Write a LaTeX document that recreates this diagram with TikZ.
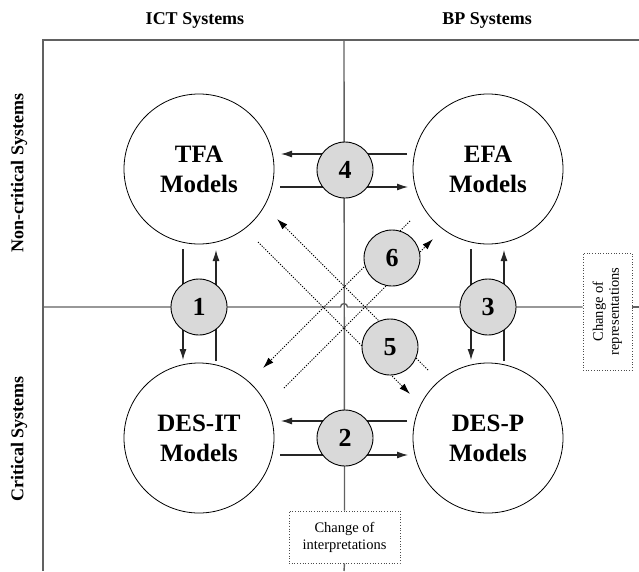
\documentclass[tikz,border=0pt]{standalone}
\usepackage{fontspec}
\usepackage{graphicx}
\setmainfont{Liberation Serif}
\usetikzlibrary{arrows.meta}

\begin{document}
\begin{tikzpicture}[x=1pt,y=-1pt,
  axis/.style={draw=black!62, line width=1.4pt},
  model/.style={circle, draw=black, line width=0.8pt, fill=white,
    minimum size=150pt, inner sep=0pt, align=center,
    font=\fontsize{25}{30}\selectfont\bfseries},
  badge/.style={circle, draw=black, line width=0.9pt, fill=black!15,
    minimum size=56pt, inner sep=0pt, font=\fontsize{26}{28}\selectfont\bfseries},
  flow/.style={draw=black!85, line width=1.1pt, -{Latex[length=11pt,width=7pt]}},
  trace/.style={draw=black, line width=1pt, dash pattern=on 1.2pt off 1.4pt},
  tip/.style={-{Latex[length=11pt,width=7pt]}},
  heading/.style={font=\fontsize{18}{20}\selectfont\bfseries},
  note/.style={draw=black!70, dotted, line width=0.7pt, fill=white, align=center,
    inner sep=0pt, font=\fontsize{14.5}{17}\selectfont}
]
\useasboundingbox (0,0) rectangle (639,571);

% headings
\node[heading] (ict) at (195,20) {ICT Systems};
\node[heading] (bp) at (487,20) {BP Systems};
\node[heading, rotate=90] (noncrit) at (19,173) {Non-critical Systems};
\node[heading, rotate=90] (crit) at (19,439) {Critical Systems};

% change boxes
\node[note, minimum width=111pt, minimum height=52pt] (interp) at (344.5,537) {Change of\\interpretations};
\node[note, minimum width=49pt, minimum height=117pt] (repr) at (607.5,311.5)
  {\rotatebox{90}{\begin{tabular}{@{}c@{}}Change of\\[-1pt]representations\end{tabular}}};

% frame and quadrant axes
\coordinate (bl) at (43,571);
\coordinate (tl) at (43,40);
\coordinate (tr) at (639,40);
\coordinate (vt) at (344,40);
\coordinate (vb) at (344,571);
\coordinate (hl) at (43,307);
\coordinate (hr) at (639,307);
\coordinate (hopa) at (340.5,307);
\coordinate (hopb) at (347.5,307);
\draw[axis] (bl) -- (tl) -- (tr);
\draw[axis] (vt) -- (interp.north);
\draw[axis] (interp.south) -- (vb);
\draw[axis] (hl) -- (hopa) .. controls (340.5,302.5) and (347.5,302.5) .. (hopb) -- (hopb -| repr.west);
\draw[axis] (hr -| repr.east) -- (hr);

% model circles
\node[model] (tfa) at (199,169) {TFA\\Models};
\node[model] (efa) at (488,169) {EFA\\Models};
\node[model] (desit) at (199,438) {DES-IT\\Models};
\node[model] (desp) at (488,438) {DES-P\\Models};

% horizontal exchanges
\coordinate (f4a) at (407,154); \coordinate (f4b) at (281,154);
\coordinate (f4c) at (280,187); \coordinate (f4d) at (408,187);
\coordinate (f2a) at (407,421); \coordinate (f2b) at (281,421);
\coordinate (f2c) at (280,455); \coordinate (f2d) at (408,455);
\draw[flow] (f4a) -- (f4b);
\draw[flow] (f4c) -- (f4d);
\draw[flow] (f2a) -- (f2b);
\draw[flow] (f2c) -- (f2d);

% vertical exchanges
\coordinate (f1a) at (183,249); \coordinate (f1b) at (183,360);
\coordinate (f1c) at (216,361); \coordinate (f1d) at (216,250);
\coordinate (f3a) at (471,249); \coordinate (f3b) at (471,360);
\coordinate (f3c) at (504,361); \coordinate (f3d) at (504,250);
\draw[flow] (f1a) -- (f1b);
\draw[flow] (f1c) -- (f1d);
\draw[flow] (f3a) -- (f3b);
\draw[flow] (f3c) -- (f3d);

% diagonal traces
\coordinate (da0) at (428,370); \coordinate (da1) at (277,219);
\coordinate (db0) at (258,242); \coordinate (db1) at (410,394);
\coordinate (dc0) at (410,221); \coordinate (dc1) at (263,368);
\coordinate (dd0) at (284,388); \coordinate (dd1) at (433,239);
\draw[trace, tip] (da0) -- (da1);
\draw[trace, tip] (db0) -- (db1);
\draw[trace, tip] (dc0) -- (dc1);
\draw[trace, tip] (dd0) -- (dd1);

% numbered badges
\node[badge] (n1) at (199,307) {1};
\node[badge] (n2) at (345,438) {2};
\node[badge] (n3) at (488,307) {3};
\node[badge] (n4) at (345,170) {4};
\node[badge] (n5) at (390,347) {5};
\node[badge] (n6) at (392,258) {6};
\end{tikzpicture}
\end{document}
